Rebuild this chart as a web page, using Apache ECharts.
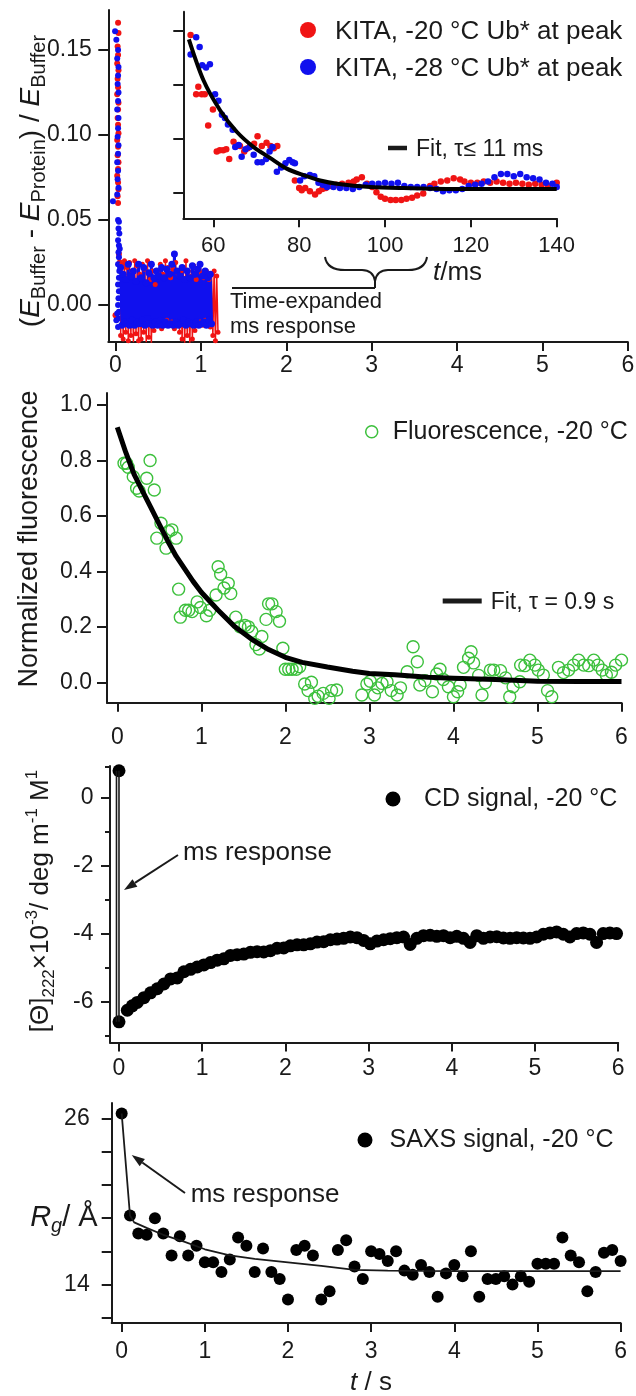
<!DOCTYPE html>
<html><head><meta charset="utf-8">
<script src="https://cdn.jsdelivr.net/npm/echarts@6.0.0/dist/echarts.min.js"></script>
<style>html,body{margin:0;padding:0;background:#fff}#c{width:636px;height:1396px}</style>
</head><body><div id="c"></div>
<script>
// ---------- DATA ----------
const tTicks = [0, 1, 2, 3, 4, 5, 6];

// Panel 1: KITA (main, t in s)
const kitaTicksY = [0, 0.05, 0.10, 0.15];
const kitaRedSpike = [[0.03,0.166],[0.035,0.160],[0.025,0.152],[0.03,0.147],[0.02,0.142],[0.035,0.138],[0.025,0.133],[0.03,0.128],[0.02,0.124],[0.035,0.119],[0.03,0.115],[0.025,0.110],[0.03,0.106],[0.035,0.101],[0.02,0.097],[0.03,0.093],[0.025,0.088],[0.035,0.084],[0.03,0.080],[0.02,0.076],[0.03,0.072],[0.035,0.068],[0.025,0.064],[0.03,0.060],[0.0,-0.006],[0.04,0.03],[0.05,0.025]];
const kitaBlueSpike = [[-0.005,0.161],[0.01,0.156],[0.03,0.150],[0.02,0.145],[0.035,0.140],[0.03,0.135],[0.025,0.130],[0.035,0.125],[0.03,0.120],[0.02,0.115],[0.035,0.110],[0.03,0.104],[0.025,0.099],[0.035,0.094],[0.03,0.089],[0.02,0.084],[0.03,0.079],[0.025,0.074],[0.035,0.069],[0.02,0.065],[-0.03,0.061],[0.03,0.05],[0.04,0.049],[0.035,0.045],[0.045,0.042],[0.03,0.038],[0.04,0.035],[0.035,0.031],[0.05,0.033],[0.04,0.028],[0.03,0.024],[0.045,0.02],[0.04,0.016],[0.03,0.012],[0.04,0.008],[0.035,0.004],[0.03,0.0],[0.04,-0.004],[0.035,-0.008],[0.02,-0.005],[0.03,-0.013],[0.01,-0.009]];
const kitaRedNoise = [[0.06,-0.018],[0.075,0.024],[0.09,-0.02],[0.105,0.026],[0.12,-0.016],[0.135,0.022],[0.15,-0.021],[0.165,0.025],[0.18,-0.018],[0.195,0.02],[0.21,-0.022],[0.225,0.026],[0.24,-0.017],[0.255,0.023],[0.27,-0.021],[0.285,0.018],[0.3,-0.02],[0.315,0.024],[0.33,-0.016],[0.345,0.021],[0.36,-0.022],[0.375,0.026],[0.39,-0.019],[0.405,0.015],[0.42,-0.023],[0.435,0.02],[0.45,-0.015],[0.465,0.012],[0.48,-0.012],[0.495,0.02],[0.51,-0.01],[0.525,0.024],[0.54,-0.014],[0.555,0.018],[0.57,-0.012],[0.585,0.026],[0.6,-0.009],[0.615,0.022],[0.63,-0.012],[0.645,0.016],[0.66,-0.01],[0.675,0.021],[0.69,-0.014],[0.705,0.025],[0.72,-0.011],[0.735,0.018],[0.75,-0.016],[0.765,0.02],[0.78,-0.02],[0.795,0.022],[0.81,-0.023],[0.825,0.026],[0.84,-0.018],[0.855,0.02],[0.87,-0.024],[0.885,0.017],[0.9,-0.02],[0.915,0.023],[0.93,-0.015],[0.945,0.015],[0.96,-0.012],[0.975,0.021],[0.99,-0.01],[1.005,0.019],[1.02,-0.012],[1.035,0.016],[1.05,-0.009],[1.065,0.02],[1.08,-0.011],[1.095,0.015],[1.11,-0.013],[1.125,0.018],[1.14,-0.018],[1.155,0.02],[1.17,-0.021],[1.185,0.017],[1.2,-0.016]];
const kitaBlueNoise = [[0.06,0.022],[0.075,-0.012],[0.09,0.018],[0.105,-0.01],[0.12,0.015],[0.135,-0.011],[0.15,0.024],[0.165,-0.012],[0.18,0.017],[0.195,-0.009],[0.21,0.02],[0.225,-0.012],[0.24,0.014],[0.255,-0.01],[0.27,0.024],[0.285,-0.011],[0.3,0.016],[0.315,-0.009],[0.33,0.022],[0.345,-0.012],[0.36,0.013],[0.375,-0.008],[0.39,0.019],[0.405,-0.011],[0.42,0.024],[0.435,-0.012],[0.45,0.016],[0.465,-0.01],[0.48,0.02],[0.495,-0.012],[0.51,0.017],[0.525,-0.009],[0.54,0.022],[0.555,-0.012],[0.57,0.016],[0.585,-0.01],[0.6,0.021],[0.615,-0.012],[0.63,0.018],[0.645,-0.011],[0.66,0.024],[0.675,-0.012],[0.69,0.03],[0.705,-0.01],[0.72,0.02],[0.735,-0.012],[0.75,0.017],[0.765,-0.011],[0.78,0.022],[0.795,-0.009],[0.81,0.015],[0.825,-0.012],[0.84,0.02],[0.855,-0.01],[0.87,0.016],[0.885,-0.011],[0.9,0.023],[0.915,-0.012],[0.93,0.018],[0.945,-0.01],[0.96,0.021],[0.975,-0.012],[0.99,0.024],[1.005,-0.011],[1.02,0.017],[1.035,-0.01],[1.05,0.02],[1.065,-0.012],[1.08,0.016],[1.095,-0.009],[1.11,0.018],[1.125,-0.011]];

// Panel 1 inset (t in ms)
const insetTicksX = [60, 80, 100, 120, 140];
const insetTicksY = [0, 0.05, 0.10, 0.15];
const insetRed = [[54.7,0.146],[56.0,0.091],[56.5,0.098],[57.3,0.091],[58.0,0.091],[58.8,0.062],[59.9,0.077],[60.8,0.038],[61.5,0.039],[62.3,0.039],[63.0,0.040],[63.7,0.031],[64.7,0.047],[65.4,0.043],[66.2,0.043],[67.2,0.038],[68.0,0.041],[68.6,0.043],[69.5,0.045],[70.3,0.052],[71.3,0.043],[72.4,0.046],[73.3,0.043],[74.1,0.041],[74.9,0.043],[79.0,0.011],[80.0,0.004],[80.6,0.002],[81.4,0.004],[82.5,0.001],[83.7,-0.002],[84.6,0.001],[85.4,0.003],[86.2,0.004],[87.5,0.006],[88.6,0.007],[90.0,0.008],[91.5,0.009],[92.7,0.010],[93.4,0.012],[94.6,0.014],[95.8,0.008],[97.0,0.005],[98.0,0.000],[99.0,-0.004],[100.0,-0.006],[101.3,-0.007],[102.5,-0.007],[103.8,-0.007],[105.0,-0.006],[106.3,-0.005],[107.5,-0.003],[108.9,-0.001],[110.5,0.006],[111.5,0.008],[113.0,0.010],[114.5,0.011],[116.0,0.013],[117.5,0.012],[118.5,0.010],[120.0,0.009],[121.5,0.009],[123.0,0.010],[124.5,0.009],[126.0,0.010],[127.5,0.009],[129.0,0.008],[130.5,0.009],[132.0,0.008],[133.5,0.007],[135.0,0.008],[136.5,0.007],[138.0,0.006],[140.0,0.009]];
const insetBlue = [[54.7,0.128],[56.0,0.144],[56.8,0.135],[57.4,0.118],[58.3,0.116],[59.2,0.119],[60.4,0.091],[61.2,0.085],[62.0,0.072],[62.7,0.069],[63.4,0.063],[64.5,0.058],[65.1,0.042],[65.9,0.044],[66.6,0.033],[67.5,0.040],[68.5,0.042],[69.4,0.035],[70.3,0.028],[71.3,0.028],[72.3,0.031],[73.1,0.038],[73.8,0.042],[74.8,0.019],[75.8,0.023],[76.8,0.027],[77.7,0.030],[78.5,0.028],[79.0,0.027],[80.2,0.011],[81.2,0.015],[82.5,0.016],[83.5,0.015],[84.5,0.009],[85.5,0.007],[86.5,0.005],[88.0,0.005],[89.5,0.004],[91.0,0.004],[92.5,0.003],[94.0,0.005],[95.5,0.007],[97.0,0.008],[98.5,0.008],[100.0,0.009],[101.5,0.008],[103.0,0.009],[104.5,0.006],[106.0,0.005],[107.5,0.005],[109.0,0.005],[110.5,0.004],[112.0,0.003],[113.5,0.001],[115.0,0.002],[116.5,0.002],[118.0,0.003],[119.5,0.006],[121.0,0.007],[122.5,0.008],[124.0,0.010],[125.5,0.014],[127.0,0.017],[128.5,0.017],[130.0,0.015],[131.5,0.017],[133.0,0.014],[134.5,0.013],[136.0,0.012],[137.5,0.009],[139.0,0.008],[140.0,0.005]];
const insetFit = [[54.3,0.142],[57.7,0.104],[61.6,0.076],[65.5,0.056],[69.4,0.042],[73.2,0.032],[77.1,0.022],[81.0,0.016],[84.9,0.011],[88.8,0.008],[96.5,0.005],[104.3,0.004],[119.8,0.003],[140.0,0.003]];

// Panel 2: Fluorescence
const fluorTicksY = [0, 0.2, 0.4, 0.6, 0.8, 1.0];
const fluor = [[0.08,0.79],[0.11,0.79],[0.13,0.776],[0.19,0.742],[0.23,0.70],[0.26,0.69],[0.35,0.736],[0.39,0.80],[0.44,0.694],[0.47,0.52],[0.52,0.574],[0.58,0.484],[0.61,0.544],[0.65,0.55],[0.70,0.52],[0.73,0.336],[0.75,0.235],[0.81,0.26],[0.85,0.26],[0.89,0.255],[0.95,0.29],[0.99,0.27],[1.06,0.24],[1.10,0.26],[1.175,0.315],[1.20,0.417],[1.23,0.39],[1.27,0.34],[1.32,0.357],[1.35,0.32],[1.41,0.235],[1.46,0.20],[1.52,0.205],[1.56,0.20],[1.60,0.183],[1.65,0.136],[1.69,0.12],[1.72,0.165],[1.77,0.227],[1.80,0.283],[1.84,0.283],[1.89,0.255],[1.93,0.22],[1.97,0.123],[2.0,0.047],[2.04,0.047],[2.08,0.047],[2.13,0.047],[2.17,0.056],[2.23,-0.006],[2.27,-0.03],[2.31,0.0],[2.35,-0.058],[2.39,-0.05],[2.45,-0.04],[2.52,-0.058],[2.55,-0.03],[2.61,-0.028],[2.91,-0.046],[2.97,-0.006],[3.01,0.004],[3.06,-0.046],[3.10,-0.02],[3.15,-0.004],[3.21,0.002],[3.26,-0.03],[3.33,-0.046],[3.37,-0.02],[3.45,0.038],[3.52,0.128],[3.57,0.074],[3.60,-0.01],[3.66,0.006],[3.75,-0.034],[3.80,0.03],[3.84,0.047],[3.88,0.01],[3.94,-0.016],[4.0,-0.052],[4.05,-0.034],[4.08,-0.01],[4.12,0.054],[4.18,0.087],[4.21,0.11],[4.24,0.07],[4.30,0.025],[4.34,-0.046],[4.38,-0.002],[4.44,0.044],[4.48,0.044],[4.56,0.042],[4.62,0.016],[4.67,-0.052],[4.71,-0.016],[4.79,0.002],[4.80,0.062],[4.85,0.06],[4.91,0.08],[4.97,0.062],[5.01,0.044],[5.07,0.026],[5.12,-0.03],[5.17,-0.052],[5.25,0.054],[5.31,0.035],[5.37,0.044],[5.43,0.062],[5.49,0.08],[5.55,0.062],[5.61,0.06],[5.67,0.08],[5.72,0.062],[5.77,0.044],[5.82,0.026],[5.88,0.036],[5.93,0.062],[6.0,0.08]];
const fluorFit = [[0,0.92],[0.1,0.83],[0.2,0.75],[0.3,0.69],[0.4,0.63],[0.5,0.57],[0.6,0.51],[0.7,0.455],[0.8,0.41],[0.9,0.365],[1.0,0.325],[1.2,0.26],[1.4,0.20],[1.6,0.155],[1.8,0.118],[2.0,0.09],[2.2,0.072],[2.5,0.055],[2.8,0.04],[3.0,0.032],[3.3,0.027],[3.7,0.018],[4.0,0.015],[4.5,0.01],[5.0,0.004],[5.5,0.003],[6.0,0.003]];

// Panel 3: CD
const cdTicksMajor = [-6, -4, -2, 0];
const cdTicksMinor = [-7, -5, -3, -1, 0.9];
const cdJump = [[0,0.78],[0,-6.59]];
const cdJumpEdge = [[-0.03,0.78],[-0.03,-6.59]];
const cd = [[0,0.78],[0,-6.59],[0.10,-6.25],[0.16,-6.12],[0.22,-6.02],[0.30,-5.88],[0.38,-5.74],[0.46,-5.62],[0.54,-5.48],[0.62,-5.33],[0.70,-5.30],[0.78,-5.12],[0.86,-5.05],[0.94,-4.98],[1.02,-4.92],[1.10,-4.85],[1.18,-4.78],[1.26,-4.74],[1.34,-4.64],[1.42,-4.62],[1.50,-4.60],[1.58,-4.55],[1.66,-4.53],[1.74,-4.54],[1.82,-4.50],[1.90,-4.43],[1.98,-4.42],[2.06,-4.36],[2.14,-4.33],[2.22,-4.33],[2.30,-4.30],[2.38,-4.25],[2.46,-4.24],[2.54,-4.18],[2.62,-4.16],[2.70,-4.14],[2.78,-4.10],[2.86,-4.12],[2.94,-4.20],[3.02,-4.30],[3.10,-4.22],[3.18,-4.18],[3.26,-4.15],[3.34,-4.12],[3.42,-4.10],[3.50,-4.32],[3.58,-4.14],[3.66,-4.06],[3.74,-4.05],[3.82,-4.08],[3.90,-4.06],[3.98,-4.12],[4.06,-4.08],[4.14,-4.14],[4.22,-4.26],[4.30,-4.06],[4.38,-4.14],[4.46,-4.10],[4.54,-4.09],[4.62,-4.13],[4.70,-4.14],[4.78,-4.12],[4.86,-4.13],[4.94,-4.14],[5.02,-4.10],[5.10,-4.02],[5.18,-3.98],[5.26,-3.95],[5.34,-4.02],[5.42,-4.10],[5.50,-4.00],[5.58,-3.98],[5.66,-4.02],[5.74,-4.26],[5.82,-4.00],[5.90,-3.98],[5.98,-4.00]];

// Panel 4: SAXS
const saxsTicksY = [11.6, 14, 16.4, 18.8, 21.2, 23.6, 26];
const saxsLabelsY = [14, 18.8, 26];
const saxsT = [0,0.1,0.2,0.3,0.4,0.5,0.6,0.7,0.8,0.9,1.0,1.1,1.2,1.3,1.4,1.5,1.6,1.7,1.8,1.9,2.0,2.1,2.2,2.3,2.4,2.5,2.6,2.7,2.8,2.9,3.0,3.1,3.2,3.3,3.4,3.5,3.6,3.7,3.8,3.9,4.0,4.1,4.2,4.3,4.4,4.5,4.6,4.7,4.8,4.9,5.0,5.1,5.2,5.3,5.4,5.5,5.6,5.7,5.8,5.9,6.0];
const saxsRg = [26.4,19.0,17.7,17.6,18.8,17.7,16.1,17.5,16.1,16.8,15.6,15.6,14.9,15.8,17.4,16.8,14.9,16.6,14.9,14.4,12.9,16.5,16.8,16.1,12.9,13.5,16.5,17.2,15.3,14.4,16.4,16.2,15.7,16.4,15.0,14.7,15.4,14.9,13.1,14.8,15.4,14.6,16.4,13.1,14.4,14.4,14.6,14.0,14.6,14.2,15.5,15.5,15.5,17.4,16.1,15.6,13.5,14.9,16.3,16.5,15.7];
const saxsFitT = [0,0.1,0.15,0.3,0.5,0.75,1.0,1.3,1.6,2.0,2.4,2.8,3.2,3.6,4.0,5.0,6.0];
const saxsFitRg = [26.4,19.0,18.5,18.1,17.6,17.1,16.55,16.1,15.85,15.6,15.35,15.05,15.0,14.98,14.97,14.97,14.97];

// ---------- STYLE ----------
const INK = '#1a1a1a', RED = '#f01414', BLUE = '#1010ee', GREEN = '#3cc03c';
const FF = '"Liberation Sans", Arial, Helvetica, sans-serif';
function R(size, o) { return Object.assign({fontSize: size, fontFamily: FF, fill: INK}, o || {}); }

function grid(left, top, width, height) {
  return {left, top, width, height, containLabel: false, outerBoundsMode: 'none', show: false};
}
function xAx(gi, min, max, ticks, margin, fs) {
  return {type: 'value', gridIndex: gi, min, max, position: 'bottom',
    axisLine: {show: true, onZero: false, lineStyle: {color: INK, width: 2}},
    axisTick: {show: true, customValues: ticks, length: 9, lineStyle: {color: INK, width: 2}},
    axisLabel: {show: true, customValues: ticks, margin, fontSize: fs, fontFamily: FF, color: INK},
    splitLine: {show: false}, minorTick: {show: false}};
}
function yAx(gi, min, max, ticks, labelVals, fmt, margin, tickLen, showLine, rich) {
  return {type: 'value', gridIndex: gi, min, max, position: 'left',
    axisLine: {show: showLine !== false, onZero: false, lineStyle: {color: INK, width: 2}},
    axisTick: {show: true, customValues: ticks, length: tickLen, lineStyle: {color: INK, width: 2}},
    axisLabel: {show: !!labelVals, customValues: labelVals || [], margin, fontSize: 23, fontFamily: FF, color: INK,
      formatter: fmt || undefined, rich: rich},
    splitLine: {show: false}};
}

const graphics = [];
function text(x, y, t, size) {
  graphics.push({type: 'text', x, y, z: 100,
    style: {text: t, fontSize: size, fontFamily: FF, fill: INK, align: 'left', verticalAlign: 'middle'}});
}
function richText(x, y, t, rich, align, rot) {
  graphics.push({type: 'text', x, y, z: 100, rotation: rot || 0,
    style: {text: t, rich, align: align || 'left', verticalAlign: 'middle', fontFamily: FF, fill: INK}});
}
function seg(x1, y1, x2, y2, w) {
  graphics.push({type: 'line', z: 100, shape: {x1, y1, x2, y2}, style: {stroke: INK, lineWidth: w}});
}
function curve(x1, y1, cx, cy, x2, y2) {
  graphics.push({type: 'bezierCurve', z: 100, shape: {x1, y1, cpx1: cx, cpy1: cy, x2, y2},
    style: {stroke: INK, lineWidth: 2, fill: null}});
}
function dot(cx, cy, r, fill, stroke) {
  graphics.push({type: 'circle', z: 100, shape: {cx, cy, r},
    style: stroke ? {fill: null, stroke, lineWidth: 1.5} : {fill}});
}
function arrow(x1, y1, x2, y2) {
  const a = Math.atan2(y2 - y1, x2 - x1), L = 13, W = 4.5;
  const bx = x2 - L * Math.cos(a), by = y2 - L * Math.sin(a);
  const px = -Math.sin(a) * W, py = Math.cos(a) * W;
  seg(x1, y1, bx, by, 2);
  graphics.push({type: 'polygon', z: 100, shape: {points: [[x2, y2], [bx + px, by + py], [bx - px, by - py]]}, style: {fill: INK}});
}

// Panel 1 labels
richText(31, 181, '{p|(}{e|E}{s|Buffer}{p| - }{e|E}{s|Protein}{p|) / }{e|E}{s|Buffer}',
  {p: R(28, {lineHeight: 36}), e: R(28, {fontStyle: 'italic', lineHeight: 36}), s: R(20, {lineHeight: 20, verticalAlign: 'bottom'})},
  'center', Math.PI / 2);
dot(308, 30, 8, RED); dot(308, 67, 8, BLUE);
text(335, 32, 'KITA, -20 °C Ub* at peak', 26);
text(335, 69, 'KITA, -28 °C Ub* at peak', 26);
seg(388, 148, 407, 148, 4.5);
text(416, 150, 'Fit, τ≤ 11 ms', 23);
richText(433, 273, '{i|t}{n|/ms}', {i: R(26, {fontStyle: 'italic'}), n: R(26)}, 'left');
// brace under the time-expanded interval
curve(325, 257, 327, 270, 345, 270);
seg(345, 270, 362, 270, 2);
curve(362, 270, 373, 270, 375, 281);
curve(375, 281, 377, 270, 388, 270);
seg(388, 270, 408, 270, 2);
curve(408, 270, 425, 270, 427, 257);
seg(375, 280, 375, 288, 2);
seg(375, 288, 232, 288, 2);
text(230, 302, 'Time-expanded', 22);
text(230, 327, 'ms response', 22);

// Panel 2 labels
richText(30, 539, '{p|Normalized fluorescence}', {p: R(27)}, 'center', Math.PI / 2);
dot(371.7, 431.7, 6, null, GREEN);
text(392.7, 432, 'Fluorescence, -20 °C', 25);
seg(442.7, 601, 481.7, 601, 5);
text(490.7, 603, 'Fit, τ = 0.9 s', 23);

// Panel 3 labels
richText(41, 901, '{p|[Θ]}{s|222}{p|×10}{u|-3}{p|/ deg m}{u|-1}{p| M}{u|1}',
  {p: R(26, {lineHeight: 34}), s: R(17, {lineHeight: 17, verticalAlign: 'bottom'}), u: R(17, {lineHeight: 17, verticalAlign: 'top'})},
  'center', Math.PI / 2);
dot(393, 799, 7.5, '#000');
text(424, 799, 'CD signal, -20 °C', 25);
text(183, 853, 'ms response', 26);
arrow(178, 855, 124, 890);

// Panel 4 labels
dot(365, 1140, 7.5, '#000');
text(389.5, 1140, 'SAXS signal, -20 °C', 25);
text(190.7, 1195, 'ms response', 26);
arrow(185, 1193, 131.7, 1155);
richText(371, 1383, '{i|t}{n| / s}', {i: R(26, {fontStyle: 'italic'}), n: R(26)}, 'center');

const saxs = saxsT.map((t, i) => [t, saxsRg[i]]);
const saxsFit = saxsFitT.map((t, i) => [t, saxsFitRg[i]]);

function sc(xi, yi, data, size, color, extra) {
  return Object.assign({type: 'scatter', xAxisIndex: xi, yAxisIndex: yi, data, symbolSize: size,
    itemStyle: {color, opacity: 1}, silent: true}, extra || {});
}
function ln(xi, yi, data, color, width, extra) {
  return Object.assign({type: 'line', xAxisIndex: xi, yAxisIndex: yi, data, symbol: 'none',
    lineStyle: {color, width, opacity: 1}, silent: true}, extra || {});
}

const option = {
  animation: false,
  backgroundColor: '#fff',
  textStyle: {fontFamily: FF},
  grid: [
    grid(108.3, 10, 519.6, 332),
    grid(183.3, 11.7, 373.4, 206.6),
    grid(107, 393, 514.5, 309.7),
    grid(110, 766, 508.2, 276.6),
    grid(111.7, 1103, 508.9, 220)
  ],
  xAxis: [
    xAx(0, -0.0843, 6, tTicks, 12, 23),
    xAx(1, 53, 140, insetTicksX, 17, 22),
    xAx(2, -0.1226, 6, tTicks, 23, 23),
    xAx(3, -0.108, 6, tTicks, 14.5, 23),
    xAx(4, -0.12, 6, tTicks, 17.5, 23)
  ],
  yAxis: [
    yAx(0, -0.0218, 0.1735, kitaTicksY, kitaTicksY, v => v.toFixed(2), 16.5, 10),
    yAx(1, -0.0241, 0.1677, insetTicksY, null, null, 10, 10),
    yAx(2, -0.0736, 1.0437, fluorTicksY, fluorTicksY, v => v.toFixed(1), 15, 10),
    yAx(3, -7.2, 0.92, cdTicksMajor, cdTicksMajor, v => String(v), 16.5, 9),
    yAx(3, -7.2, 0.92, cdTicksMinor, null, null, 10, 5, false),
    yAx(4, 11.2, 27.16, saxsTicksY, saxsLabelsY,
      v => Math.abs(v - 18.8) < 0.01 ? '{ri|R}{rs|g}{rn|/ Å}' : '{num|' + Math.round(v) + '}', 14, 10, true,
      {num: {fontSize: 23, fontFamily: FF, color: INK, padding: [0, 8, 0, 0]},
       ri: {fontSize: 29, fontFamily: FF, color: INK, fontStyle: 'italic', lineHeight: 36},
       rs: {fontSize: 20, fontFamily: FF, color: INK, fontStyle: 'italic', lineHeight: 20, verticalAlign: 'bottom'},
       rn: {fontSize: 29, fontFamily: FF, color: INK, lineHeight: 36}})
  ],
  series: [
    sc(0, 0, kitaRedSpike, 6, RED),
    ln(0, 0, kitaRedNoise, RED, 1.5, {symbol: 'circle', symbolSize: 5, showSymbol: true, itemStyle: {color: RED, opacity: 1}}),
    sc(0, 0, kitaBlueSpike, 6, BLUE),
    ln(0, 0, kitaBlueNoise, BLUE, 3, {symbol: 'circle', symbolSize: 7, showSymbol: true, itemStyle: {color: BLUE, opacity: 1}}),
    sc(1, 1, insetRed, 6.5, RED),
    sc(1, 1, insetBlue, 6.5, BLUE),
    ln(1, 1, insetFit, '#000', 4, {smooth: 0.3}),
    sc(2, 2, fluor, 12, 'rgba(0,0,0,0)', {itemStyle: {color: 'rgba(0,0,0,0)', borderColor: GREEN, borderWidth: 1.4, opacity: 1}}),
    ln(2, 2, fluorFit, '#000', 5),
    ln(3, 3, cdJump, INK, 1.6),
    ln(3, 3, cdJumpEdge, INK, 1.6),
    sc(3, 3, cd, 13, '#000'),
    ln(4, 5, saxsFit, INK, 1.8),
    sc(4, 5, saxs, 12, '#000')
  ],
  graphic: graphics
};
const chart = echarts.init(document.getElementById('c'), null, {renderer: 'canvas'});
chart.setOption(option);
</script></body></html>
